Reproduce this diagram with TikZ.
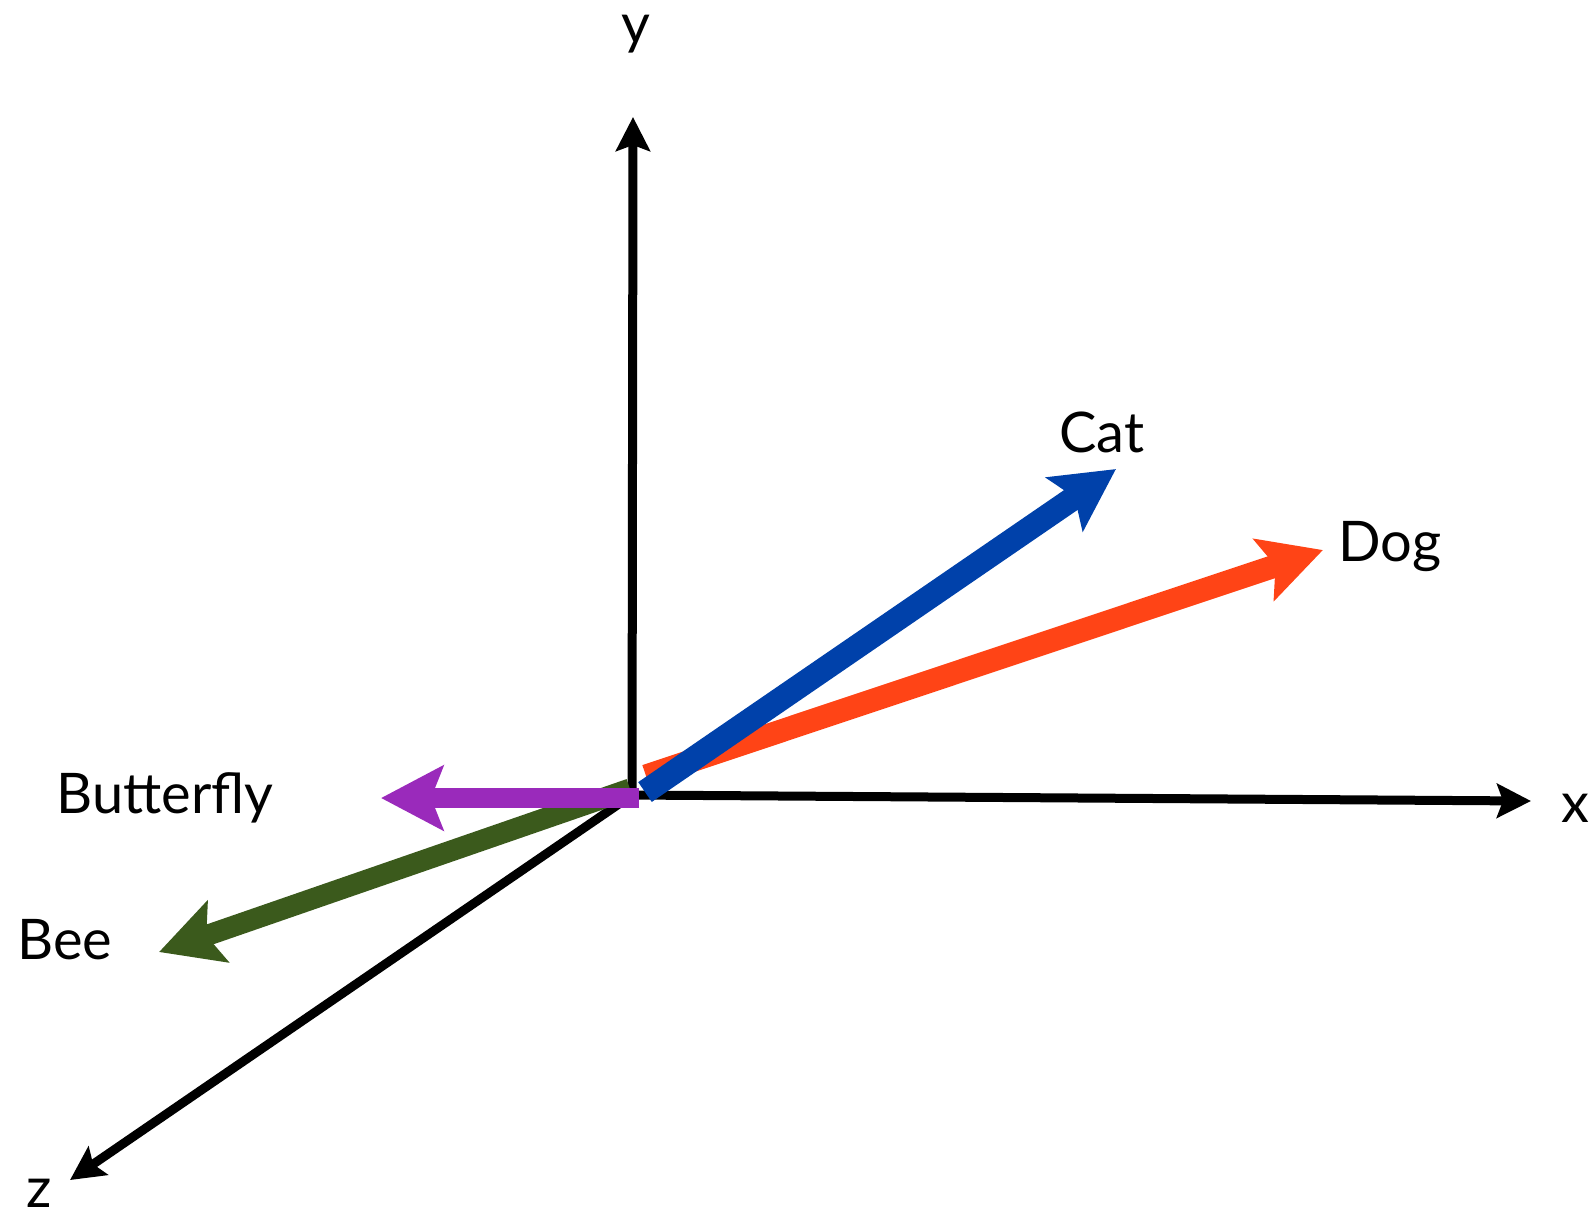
\documentclass[tikz,border=0pt]{standalone}
\usepackage{fontspec}
\setmainfont{Lato}
\usetikzlibrary{arrows.meta}
\definecolor{catblue}{RGB}{0,65,170}
\definecolor{dogred}{RGB}{255,68,22}
\definecolor{beegreen}{RGB}{59,90,28}
\definecolor{flypurple}{RGB}{154,42,187}
\tikzset{
  axis/.style={line width=4.5pt, -{Stealth[length=17pt, width=17pt, inset=3pt]}},
  vec/.style={line width=10.5pt, -{Stealth[length=31pt, width=32pt, inset=6pt]}},
  lbl/.style={font=\fontsize{28}{31}\selectfont, anchor=base, inner sep=0pt}
}
\begin{document}
\begin{tikzpicture}[x=0.5pt,y=-0.5pt]
\useasboundingbox (0,0) rectangle (1593,1207);
\coordinate (origin) at (632,795);
\coordinate (xtip) at (1531,801);
\coordinate (ytip) at (633,117);
\coordinate (ztip) at (70,1180);
\coordinate (cattip) at (1116,469);
\coordinate (dogtip) at (1323,550);
\coordinate (beetip) at (159,952);
\coordinate (flytip) at (381,798);
\node[lbl] (xlabel) at (1575,822) {x};
\node[lbl] (ylabel) at (636,43) {y};
\node[lbl] (zlabel) at (39,1207) {z};
\node[lbl] (catlabel) at (1102,452) {Cat};
\node[lbl] (doglabel) at (1390,561) {Dog};
\node[lbl] (beelabel) at (65,959) {Bee};
\node[lbl] (flylabel) at (165,813) {Butterfly};
% axes
\draw[axis] (origin) -- (xtip);
\draw[axis] (origin) -- (ytip);
\draw[axis] (origin) -- (ztip);
% vectors
\draw[vec, beegreen] (630,789) -- (beetip);
\draw[vec, dogred, line width=11.5pt] (646,776) -- (dogtip);
\draw[vec, catblue, line width=12pt] (645,792) -- (cattip);
\draw[vec, flypurple, line width=10pt] (639,798) -- (flytip);
\end{tikzpicture}
\end{document}
